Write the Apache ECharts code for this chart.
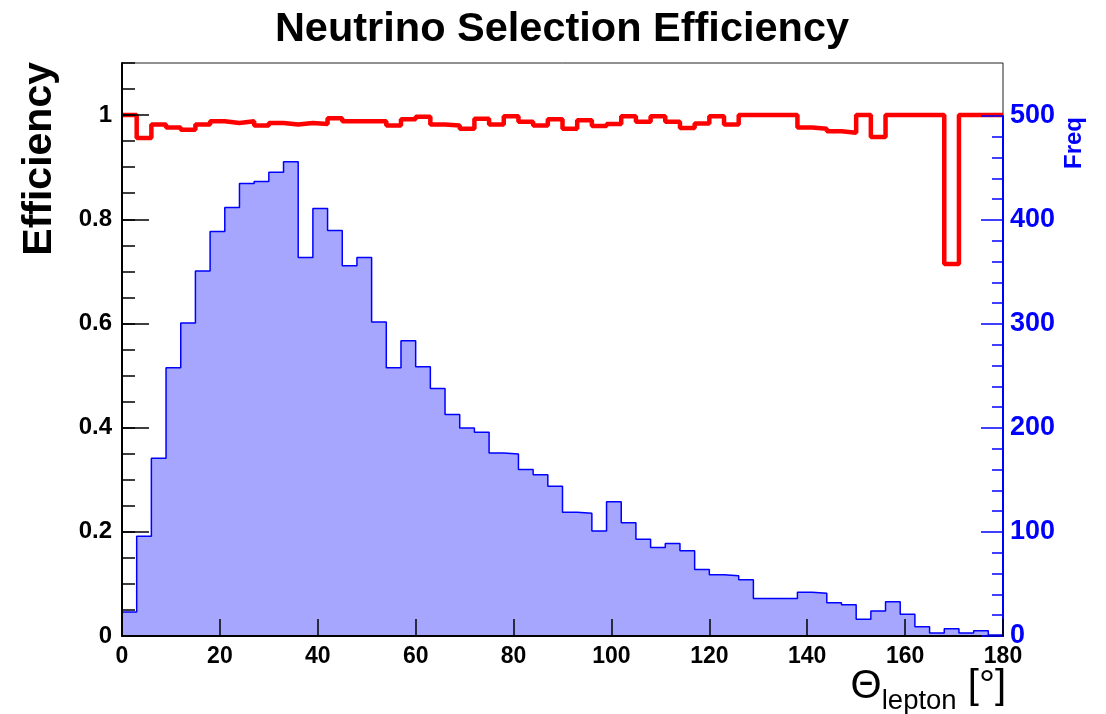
<!DOCTYPE html>
<html>
<head>
<meta charset="utf-8">
<script src="https://cdn.jsdelivr.net/npm/echarts@6/dist/echarts.min.js"></script>
<style>
html,body{margin:0;padding:0;background:#fff;}
#chart{width:1106px;height:714px;}
</style>
</head>
<body>
<div id="chart"></div>
<script>
// ---- data ----
const binEdges = [0,3,6,9,12,15,18,21,24,27,30,33,36,39,42,45,48,51,54,57,60,63,66,69,72,75,78,81,84,87,90,93,96,99,102,105,108,111,114,117,120,123,126,129,132,135,138,141,144,147,150,153,156,159,162,165,168,171,174,177,180];
const freq = [23,96,171,258,301,351,389,412,435,437,446,456,364,411,390,356,364,302,258,284,
              259,238,213,200,196,176,175,160,155,144,119,118,101,129,109,93,85,89,82,64,
              59,58,54,36,36,36,42,41,32,30,16,24,33,21,9,3,7,3,5,1];
const efficiency = [1.0,0.956,0.982,0.976,0.972,0.982,0.988,0.985,0.988,0.980,0.985,0.982,0.985,0.983,0.994,0.988,0.988,0.988,0.980,0.992,
                    0.997,0.982,0.980,0.974,0.993,0.982,0.998,0.987,0.980,0.992,0.974,0.990,0.979,0.983,0.998,0.987,0.998,0.987,0.975,0.984,
                    0.998,0.982,1.0,1.0,1.0,1.0,0.976,0.974,0.969,0.966,1.0,0.958,1.0,1.0,1.0,1.0,0.714,1.0,1.0,1.0];
const xTicks = [0,20,40,60,80,100,120,140,160,180];
const effTicks = [0,0.2,0.4,0.6,0.8,1];
const freqTicks = [0,100,200,300,400,500];
const titleText = 'Neutrino Selection Efficiency';
const yLeftName = 'Efficiency';
const yRightName = 'Freq';

// ---- build step points ----
function stepPoints(vals, closeToZero) {
  const pts = [];
  if (closeToZero) pts.push([binEdges[0], 0]);
  for (let i = 0; i < vals.length; i++) pts.push([binEdges[i], vals[i]]);
  pts.push([binEdges[vals.length], vals[vals.length - 1]]);
  if (closeToZero) pts.push([binEdges[vals.length], 0]);
  return pts;
}

const FONT = '"Liberation Sans", Arial, Helvetica, sans-serif';
const chart = echarts.init(document.getElementById('chart'), null, {renderer: 'canvas'});

const G = {left: 122, right: 103, bottom: 78, outerBoundsMode: 'none', containLabel: false};

const option = {
  animation: false,
  backgroundColor: '#fff',
  grid: [
    Object.assign({}, G, {top: 63, show: true, borderColor: '#222', borderWidth: 1, backgroundColor: 'transparent'}),
    Object.assign({}, G, {top: 116}),
    Object.assign({}, G, {top: 63})
  ],
  xAxis: [
    {
      type: 'value', gridIndex: 0, min: 0, max: 180, interval: 20, z: 5,
      axisLine: {show: true, onZero: false, lineStyle: {color: '#000', width: 2}},
      axisTick: {show: true, inside: true, length: 17, lineStyle: {color: '#000', width: 1.5}, customValues: xTicks},
      axisLabel: {show: true, margin: 9, color: '#000', fontSize: 23, fontWeight: 'bold', fontFamily: FONT, customValues: xTicks},
      splitLine: {show: false},
      name: '{t|\u0398}{s|lepton}{t| [\u00B0]}',
      nameLocation: 'end',
      nameGap: 3,
      nameMoveOverlap: false,
      nameTextStyle: {
        align: 'right', verticalAlign: 'top', padding: [31, 0, 0, 0],
        rich: {
          t: {fontSize: 40, lineHeight: 48, fontFamily: FONT, color: '#000', verticalAlign: 'top'},
          s: {fontSize: 27.5, lineHeight: 27.5, fontFamily: FONT, color: '#000', verticalAlign: 'bottom'}
        }
      }
    },
    {type: 'value', gridIndex: 1, min: 0, max: 180, show: false},
    {type: 'value', gridIndex: 2, min: 0, max: 180, show: false}
  ],
  yAxis: [
    { // left major
      type: 'value', gridIndex: 0, position: 'left', min: 0, max: 1.1, interval: 0.2, z: 5,
      axisLine: {show: true, onZero: false, lineStyle: {color: '#000', width: 2}},
      axisTick: {show: true, inside: true, length: 27, lineStyle: {color: '#000', width: 1.5}, customValues: effTicks},
      axisLabel: {show: true, margin: 10, color: '#000', fontSize: 24, fontWeight: 'bold', fontFamily: FONT, customValues: effTicks},
      splitLine: {show: false}
    },
    { // right major (freq)
      type: 'value', gridIndex: 1, position: 'right', min: 0, max: 500, interval: 100, z: 5,
      axisLine: {show: true, onZero: false, lineStyle: {color: '#0000ff', width: 2}},
      axisTick: {show: true, inside: true, length: 22, lineStyle: {color: '#0000ff', width: 1.5}, customValues: freqTicks},
      minorTick: {show: true, splitNumber: 5, length: 11, lineStyle: {color: '#0000ff', width: 1.5}},
      axisLabel: {show: true, margin: 7, color: '#0000ff', fontSize: 27, fontWeight: 'bold', fontFamily: FONT, customValues: freqTicks},
      splitLine: {show: false}
    },
    { // left minor
      type: 'value', gridIndex: 2, position: 'left', min: 0, max: 1.1, interval: 0.05, z: 5,
      axisLine: {show: false},
      axisTick: {show: true, inside: true, length: 13, lineStyle: {color: '#000', width: 1.5}},
      axisLabel: {show: false},
      splitLine: {show: false}
    }
  ],
  graphic: [
    {type: 'text', x: 562, y: 30, z: 10,
     style: {text: titleText, font: 'bold 41.5px ' + FONT, fill: '#000', textAlign: 'center', textVerticalAlign: 'middle'}},
    {type: 'text', x: 40, y: 62, rotation: Math.PI / 2, z: 10,
     style: {text: yLeftName, font: 'bold 41px ' + FONT, fill: '#000', textAlign: 'right', textVerticalAlign: 'middle'}},
    {type: 'text', x: 1074, y: 117, rotation: Math.PI / 2, z: 10,
     style: {text: yRightName, font: 'bold 24px ' + FONT, fill: '#0000ff', textAlign: 'right', textVerticalAlign: 'middle'}}
  ],
  series: [
    {
      name: 'Freq', type: 'line', xAxisIndex: 1, yAxisIndex: 1, step: 'end',
      data: stepPoints(freq, true), symbol: 'none', showSymbol: false, z: 2,
      lineStyle: {color: '#0000ff', width: 1.5},
      areaStyle: {color: '#a6a6ff', opacity: 1, origin: 'start'}
    },
    {
      name: 'Efficiency', type: 'line', xAxisIndex: 0, yAxisIndex: 0, step: 'end',
      data: stepPoints(efficiency, false), symbol: 'none', showSymbol: false, z: 3,
      lineStyle: {color: '#ff0000', width: 4.5}
    }
  ]
};
chart.setOption(option);
</script>
</body>
</html>
